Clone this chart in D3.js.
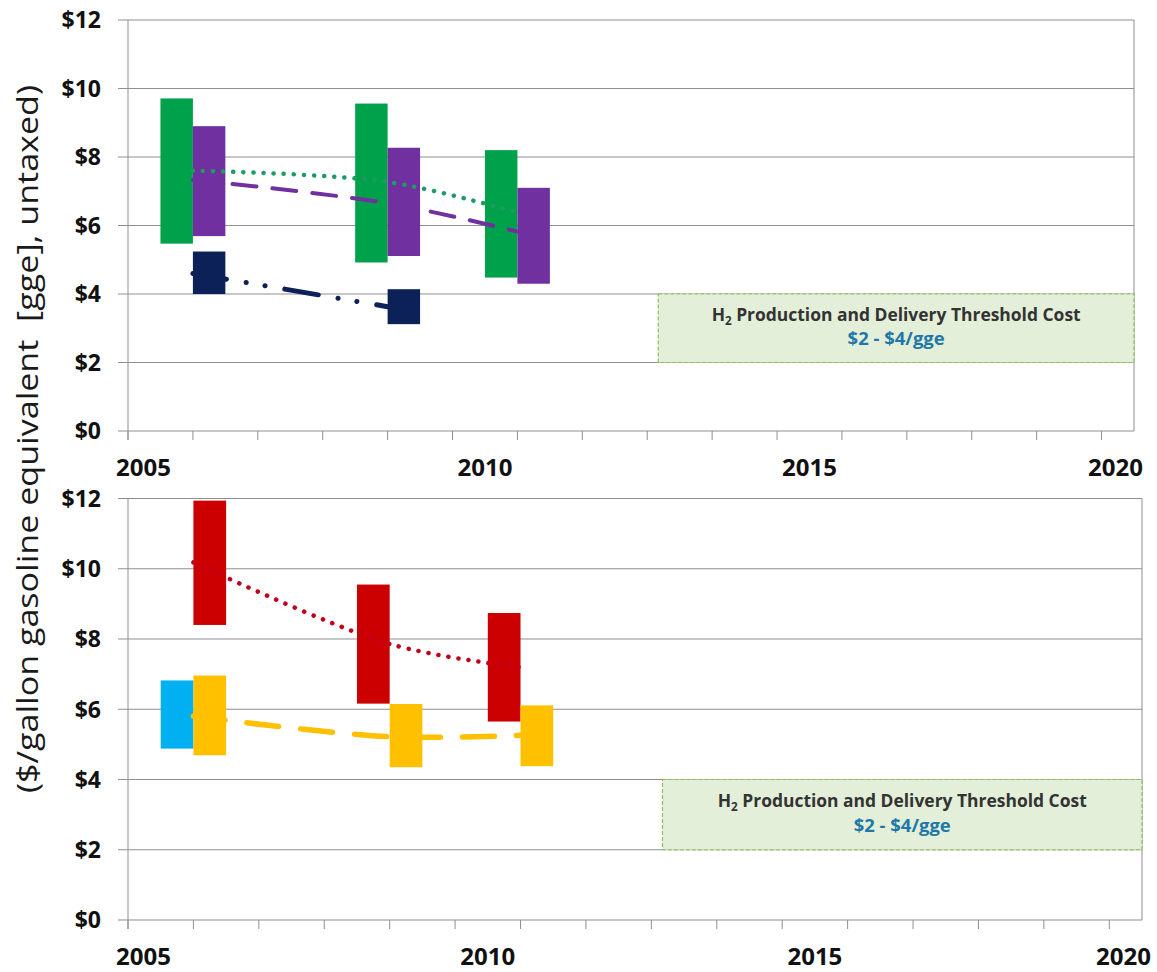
<html>
<head>
<meta charset="utf-8">
<script src="https://d3js.org/d3.v7.min.js"></script>
<style>
body { margin: 0; background: #fff; }
text { font-family: "Open Sans", "Noto Sans", sans-serif; }
</style>
</head>
<body>
<svg id="chart" width="1157" height="972"></svg>
<script>

// years on the x axis
const yearLabels = [2005, 2010, 2015, 2020];
const dollarTicks = [0, 2, 4, 6, 8, 10, 12];
const years = [2006, 2009, 2011];

// top panel
const greenLow  = [5.47, 4.92, 4.48];
const greenHigh = [9.71, 9.56, 8.20];
const greenMid  = [7.60, 7.27, 6.38];
const purpleLow  = [5.69, 5.11, 4.30];
const purpleHigh = [8.90, 8.27, 7.10];
const purpleMid  = [7.33, 6.65, 5.82];
const navyYears = [2006, 2009];
const navyLow  = [4.00, 3.12];
const navyHigh = [5.24, 4.14];
const navyMid  = [4.60, 3.63];

// bottom panel
const cyanYears = [2006];
const cyanLow  = [4.88];
const cyanHigh = [6.82];
const redLow  = [8.40, 6.16, 5.65];
const redHigh = [11.94, 9.55, 8.74];
const redMid  = [10.18, 7.86, 7.20];
const yellowLow  = [4.69, 4.35, 4.38];
const yellowHigh = [6.96, 6.15, 6.11];
const yellowMid  = [5.80, 5.22, 5.26];

// threshold band
const thresholdLow = 2;
const thresholdHigh = 4;
const thresholdFrom = 2013.17;
const thresholdTitle = "Production and Delivery Threshold Cost";
const thresholdRange = "$2 - $4/gge";

var svg = d3.select("#chart");
var gridColor = "#8f8f8f";

function bars(yrs, lo, hi, sides) {
  return yrs.map(function(y, i) { return {year: y, low: lo[i], high: hi[i], side: sides[i]}; });
}
function pts(yrs, vals) {
  return yrs.map(function(y, i) { return {year: y, v: vals[i]}; });
}

function drawPanel(p) {
  var x = d3.scaleLinear().domain([2005, 2020.5]).range([p.left, p.right]);
  var y = d3.scaleLinear().domain([0, 12]).range([p.bottom, p.top]);
  var g = svg.append("g");

  // gridlines + y ticks
  g.selectAll(".grid").data(dollarTicks).enter().append("line")
    .attr("x1", p.left - 10).attr("x2", p.right)
    .attr("y1", d => y(d)).attr("y2", d => y(d))
    .attr("stroke", gridColor).attr("stroke-width", 1);

  // right border + y axis line
  g.append("line").attr("x1", p.right).attr("x2", p.right)
    .attr("y1", y(12)).attr("y2", y(0)).attr("stroke", gridColor);
  g.append("line").attr("x1", p.left).attr("x2", p.left)
    .attr("y1", y(12)).attr("y2", y(0) + 9).attr("stroke", gridColor);

  // x ticks every year
  g.selectAll(".xt").data(d3.range(2005, 2021)).enter().append("line")
    .attr("x1", d => x(d)).attr("x2", d => x(d))
    .attr("y1", y(0)).attr("y2", y(0) + 9)
    .attr("stroke", gridColor);

  // y labels
  g.selectAll(".yl").data(dollarTicks).enter().append("text")
    .attr("x", p.left - 27).attr("y", d => y(d)).attr("dy", "0.36em")
    .attr("text-anchor", "end")
    .style("font-size", "23px").style("font-weight", "bold").style("fill", "#111")
    .text(d => "$" + d);

  // x labels, centred in the year after the tick, kept inside the frame
  var n = yearLabels.length;
  g.selectAll(".xl").data(yearLabels).enter().append("text")
    .attr("x", function(d, i) {
      if (i == 0) return p.left - 12;
      if (i == n - 1) return p.right + 9;
      return x(d + 0.5);
    })
    .attr("text-anchor", (d, i) => i == 0 ? "start" : (i == n - 1 ? "end" : "middle"))
    .attr("y", y(0) + 45)
    .style("font-size", "24px").style("font-weight", "bold").style("fill", "#111")
    .text(d => d);

  // threshold box
  var bx = x(thresholdFrom), by = y(thresholdHigh);
  var bw = p.right - bx, bh = y(thresholdLow) - y(thresholdHigh);
  g.append("rect")
    .attr("x", bx).attr("y", by).attr("width", bw).attr("height", bh)
    .attr("fill", "#e3efd9").attr("stroke", "#8fbd5e")
    .attr("stroke-width", 1.2).attr("stroke-dasharray", "4 2");
  var t1 = g.append("text")
    .attr("x", bx + bw / 2).attr("y", by + bh * 0.39)
    .attr("text-anchor", "middle")
    .attr("textLength", 369).attr("lengthAdjust", "spacingAndGlyphs")
    .style("font-size", "18px").style("font-weight", "bold").style("fill", "#333");
  t1.append("tspan").text("H");
  t1.append("tspan").attr("dy", 4).style("font-size", "12px").text("2");
  t1.append("tspan").attr("dy", -4).text(" " + thresholdTitle);
  g.append("text")
    .attr("x", bx + bw / 2).attr("y", by + bh * 0.75)
    .attr("text-anchor", "middle")
    .attr("textLength", 97).attr("lengthAdjust", "spacingAndGlyphs")
    .style("font-size", "18px").style("font-weight", "bold").style("fill", "#1f78a8")
    .text(thresholdRange);

  // range bars
  var half = x(2005.5) - x(2005);
  p.bars.forEach(function(s) {
    g.selectAll(null).data(s.data).enter().append("rect")
      .attr("x", d => d.side == "L" ? x(d.year) - half : x(d.year))
      .attr("width", half)
      .attr("y", d => y(d.high))
      .attr("height", d => y(d.low) - y(d.high))
      .attr("fill", s.color);
  });

  // trend lines
  var line = d3.line().x(d => x(d.year)).y(d => y(d.v)).curve(d3.curveCatmullRom.alpha(0.5));
  p.lines.forEach(function(s) {
    g.append("path").datum(s.data)
      .attr("d", line)
      .attr("fill", "none")
      .attr("stroke", s.color)
      .attr("stroke-width", s.width)
      .attr("stroke-linecap", "round")
      .attr("stroke-dasharray", s.dash);
  });
}

drawPanel({
  left: 128, right: 1134, top: 20, bottom: 431,
  bars: [
    {color: "#00a14b", data: bars(years, greenLow, greenHigh, ["L", "L", "L"])},
    {color: "#7030a0", data: bars(years, purpleLow, purpleHigh, ["R", "R", "R"])},
    {color: "#0b2158", data: bars(navyYears, navyLow, navyHigh, ["R", "R"])}
  ],
  lines: [
    {color: "#1e9a63", width: 4.5, dash: "0.1 10", data: pts(years, greenMid)},
    {color: "#7030a0", width: 4, dash: "24 16", data: pts(years, purpleMid)},
    {color: "#0b2158", width: 5, dash: "34 20 0.1 19 0.1 20", data: pts(navyYears, navyMid)}
  ]
});

drawPanel({
  left: 128, right: 1142, top: 498.5, bottom: 920,
  bars: [
    {color: "#00b0f0", data: bars(cyanYears, cyanLow, cyanHigh, ["L"])},
    {color: "#cc0000", data: bars(years, redLow, redHigh, ["R", "L", "L"])},
    {color: "#ffc000", data: bars(years, yellowLow, yellowHigh, ["R", "R", "R"])}
  ],
  lines: [
    {color: "#c00018", width: 4.5, dash: "0.1 10", data: pts(years, redMid)},
    {color: "#ffc000", width: 5.5, dash: "32 22", data: pts(years, yellowMid)}
  ]
});

// shared y axis title
svg.append("text")
  .attr("transform", "translate(38,439) rotate(-90)")
  .attr("text-anchor", "middle")
  .attr("textLength", 708).attr("lengthAdjust", "spacingAndGlyphs")
  .style("font-size", "29px").style("fill", "#1a1a1a")
  .style("white-space", "pre")
  .text("($/gallon gasoline equivalent  [gge], untaxed)");

</script>
</body>
</html>
